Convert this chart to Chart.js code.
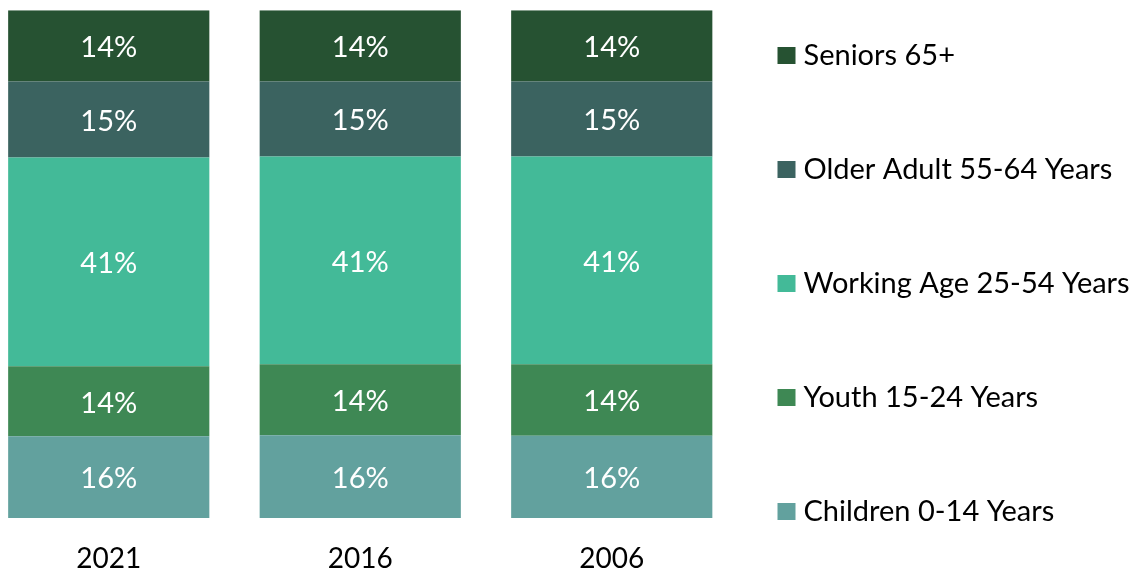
<!DOCTYPE html>
<html lang="en">
  <head>
    <meta charset="UTF-8" />
    <title>Population by Age Group</title>
    <script src="https://cdn.jsdelivr.net/npm/chart.js"></script>
    <style>
      body {
        margin: 0;
        background: #fff;
        overflow: hidden;
      }
      /* shifted left so the first bar sits near the page edge like the original */
      .chart-wrap {
        position: relative;
        width: 1155px;
        height: 600px;
        margin-left: -17px;
      }
    </style>
  </head>
  <body>
    <div class="chart-wrap">
      <canvas id="ageChart"></canvas>
    </div>

    <script>
      // Data (percent of population)
      const years = ["2021", "2016", "2006"];
      const groupNames = [
        "Children 0-14 Years",
        "Youth 15-24 Years",
        "Working Age 25-54 Years",
        "Older Adult 55-64 Years",
        "Seniors 65+",
      ];
      const children = [16.1, 16.3, 16.2];
      const youth = [13.8, 14.0, 14.1];
      const workingAge = [41.1, 40.9, 40.9];
      const olderAdult = [15.0, 14.8, 14.8];
      const seniors = [14.0, 14.0, 14.0];
      const groupColors = ["#62a19e", "#3e8854", "#43ba98", "#3b6360", "#265232"];

      const fontFamily = "Lato, 'Open Sans', sans-serif";

      // white % labels in the middle of each segment
      const segmentLabels = {
        id: "segmentLabels",
        afterDatasetsDraw(chart) {
          const ctx = chart.ctx;
          ctx.save();
          ctx.font = "29px " + fontFamily;
          ctx.fillStyle = "#ffffff";
          ctx.textAlign = "center";
          ctx.textBaseline = "middle";
          chart.data.datasets.forEach((ds, i) => {
            chart.getDatasetMeta(i).data.forEach((bar, j) => {
              const p = bar.getProps(["x", "y", "base"], true);
              ctx.fillText(Math.round(ds.data[j]) + "%", p.x, (p.y + p.base) / 2 + 2);
            });
          });
          ctx.restore();
        },
      };

      // legend on the right, top group first
      const sideLegend = {
        id: "sideLegend",
        afterDraw(chart) {
          const ctx = chart.ctx;
          const boxX = chart.chartArea.right + 40;
          ctx.save();
          ctx.font = "29px " + fontFamily;
          ctx.textBaseline = "middle";
          ctx.textAlign = "left";
          const items = chart.data.datasets.slice().reverse();
          items.forEach((ds, k) => {
            const cy = 55.5 + k * 114;
            ctx.fillStyle = ds.backgroundColor;
            ctx.fillRect(boxX, cy - 8.5, 18, 17);
            ctx.fillStyle = "#000000";
            ctx.fillText(ds.label, boxX + 26, cy);
          });
          ctx.restore();
        },
      };

      const seriesValues = [children, youth, workingAge, olderAdult, seniors];

      new Chart(document.getElementById("ageChart"), {
        type: "bar",
        data: {
          labels: years,
          datasets: seriesValues.map((vals, i) => ({
            label: groupNames[i],
            data: vals,
            backgroundColor: groupColors[i],
            borderWidth: 0,
            barPercentage: 0.8,
            categoryPercentage: 1,
          })),
        },
        options: {
          responsive: true,
          maintainAspectRatio: false,
          animation: false,
          layout: {
            padding: { top: 10.3, right: 400.5, bottom: 0, left: 0 },
          },
          plugins: {
            legend: { display: false },
            tooltip: { enabled: false },
          },
          scales: {
            x: {
              stacked: true,
              grid: { display: false, drawTicks: false },
              border: { display: false },
              ticks: {
                color: "#000000",
                padding: 27,
                font: { family: fontFamily, size: 28, lineHeight: 1 },
              },
            },
            y: {
              stacked: true,
              display: false,
              min: 0,
              max: 100,
            },
          },
        },
        plugins: [segmentLabels, sideLegend],
      });
    </script>
  </body>
</html>
